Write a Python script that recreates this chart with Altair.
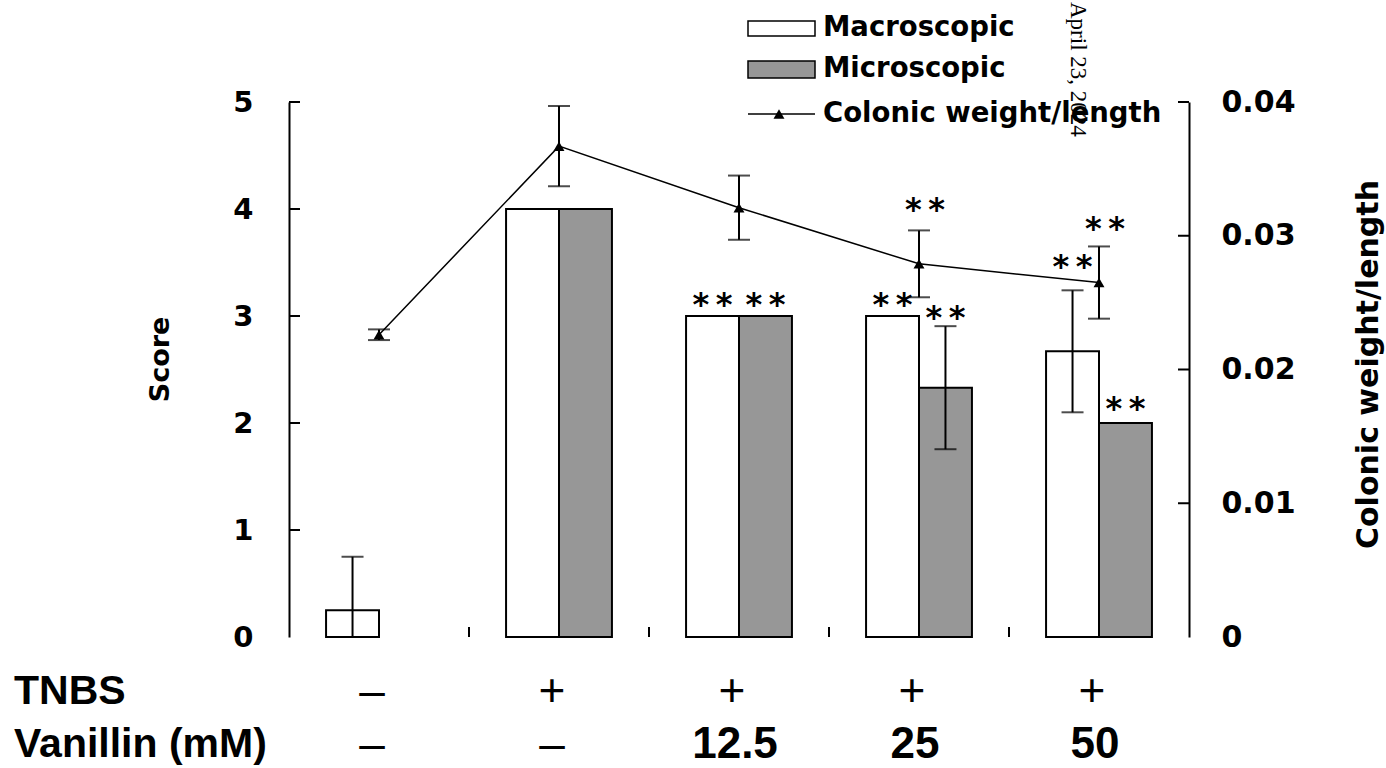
import altair as alt
import pandas as pd

# ---------------- data ----------------
groups = ["Control", "TNBS", "TNBS+V12.5", "TNBS+V25", "TNBS+V50"]
tnbs_labels = ["\u2013", "+", "+", "+", "+"]
vanillin_labels = ["\u2013", "\u2013", "12.5", "25", "50"]

series = ["Macroscopic", "Microscopic"]
macro_mean = [0.25, 4.0, 3.0, 3.0, 2.67]
macro_sd = [0.5, 0.0, 0.0, 0.0, 0.57]
micro_mean = [None, 4.0, 3.0, 2.33, 2.0]
micro_sd = [None, 0.0, 0.0, 0.575, 0.0]

weight_mean = [0.0226, 0.0367, 0.0321, 0.0279, 0.0265]
weight_sd = [0.0004, 0.0030, 0.0024, 0.0025, 0.0027]

bar_star_groups = ["TNBS+V12.5", "TNBS+V12.5", "TNBS+V25", "TNBS+V25", "TNBS+V50", "TNBS+V50"]
bar_star_series = ["Macroscopic", "Microscopic", "Macroscopic", "Microscopic", "Macroscopic", "Microscopic"]
bar_star_y = [3.18, 3.18, 3.18, 3.06, 3.53, 2.21]
line_star_groups = ["TNBS+V25", "TNBS+V50"]
line_star_y = [0.0325, 0.0311]
star_text = "*\u2009*"

score_ticks = [0, 1, 2, 3, 4, 5]
weight_ticks = [0, 0.01, 0.02, 0.03, 0.04]

watermark = "April 23, 2024"

# ---------------- tables ----------------
rows = []
for g, m, s in zip(groups, macro_mean, macro_sd):
    rows.append({"group": g, "series": "Macroscopic", "mean": m, "sd": s})
for g, m, s in zip(groups, micro_mean, micro_sd):
    if m is not None:
        rows.append({"group": g, "series": "Microscopic", "mean": m, "sd": s})
bar_df = pd.DataFrame(rows)
bar_df["lo"] = (bar_df["mean"] - bar_df["sd"]).clip(lower=0)
bar_df["hi"] = bar_df["mean"] + bar_df["sd"]
err_df = bar_df[bar_df["sd"] > 0]
cap_df = pd.concat([
    err_df[["group", "series", "hi"]].rename(columns={"hi": "v"}),
    err_df[err_df["lo"] > 0][["group", "series", "lo"]].rename(columns={"lo": "v"}),
])

line_df = pd.DataFrame({"group": groups, "w": weight_mean, "sd": weight_sd})
line_df["lo"] = line_df["w"] - line_df["sd"]
line_df["hi"] = line_df["w"] + line_df["sd"]
lcap_df = pd.concat([
    line_df[["group", "hi"]].rename(columns={"hi": "v"}),
    line_df[["group", "lo"]].rename(columns={"lo": "v"}),
])

bstar_df = pd.DataFrame({"group": bar_star_groups, "series": bar_star_series, "y": bar_star_y, "t": star_text})
lstar_df = pd.DataFrame({"group": line_star_groups, "y": line_star_y, "t": star_text})

lab_df = pd.DataFrame({"group": groups * 2,
                       "row": ["TNBS"] * 5 + ["Vanillin"] * 5,
                       "label": tnbs_labels + vanillin_labels})
lab_df["sym"] = lab_df["label"].isin(["+", "\u2013"])

W, H = 900, 535
FONT = "DejaVu Sans"

xs = alt.Scale(domain=groups, paddingInner=0, paddingOuter=0)
xo = alt.Scale(domain=series, paddingInner=0, paddingOuter=0.7)
ys = alt.Scale(domain=[0, 5], nice=False, zero=True)
ws = alt.Scale(domain=[0, 0.04], nice=False, zero=True)

X = lambda **kw: alt.X("group:N", sort=groups, scale=xs, axis=None, **kw)
XO = alt.XOffset("series:N", scale=xo, sort=series)

# ---------------- layers ----------------
bars = alt.Chart(bar_df).mark_bar(stroke="black", strokeWidth=2).encode(
    x=alt.X("group:N", sort=groups, scale=xs,
            axis=alt.Axis(labels=False, ticks=False, title=None, domainColor="black",
                          domainWidth=2, grid=False)),
    xOffset=XO,
    y=alt.Y("mean:Q", scale=ys,
            axis=alt.Axis(orient="left", values=score_ticks, ticks=False, tickSize=0, grid=False,
                          domainColor="black", domainWidth=2, labelPadding=36,
                          labelFont=FONT, labelFontWeight="bold", labelFontSize=29,
                          labelColor="black", title="Score", titleFont=FONT,
                          titleFontWeight="bold", titleFontSize=27, titleColor="black",
                          titleAngle=270, titleX=-129, titleY=257, titleAlign="center",
                          titleBaseline="middle")),
    fill=alt.Fill("series:N", scale=alt.Scale(domain=series, range=["white", "#979797"]), legend=None),
)

err = alt.Chart(err_df).mark_rule(color="black", strokeWidth=2).encode(
    x=X(), xOffset=XO,
    y=alt.Y("lo:Q", scale=ys, axis=None), y2="hi:Q")
caps = alt.Chart(cap_df).mark_tick(color="black", thickness=2, size=22, orient="horizontal").encode(
    x=X(), xOffset=XO, y=alt.Y("v:Q", scale=ys, axis=None))

line = alt.Chart(line_df).mark_line(color="black", strokeWidth=1.5).encode(
    x=X(),
    y=alt.Y("w:Q", scale=ws,
            axis=alt.Axis(orient="right", values=weight_ticks, ticks=False, tickSize=0, grid=False,
                          domainColor="black", domainWidth=2, labelPadding=32,
                          labelExpr="datum.value == 0 ? '0' : format(datum.value, '.2f')",
                          labelFont=FONT, labelFontWeight="bold", labelFontSize=30,
                          labelColor="black", labelAlign="left",
                          title="Colonic weight/length", titleFont=FONT,
                          titleFontWeight="bold", titleFontSize=30, titleColor="black",
                          titleAngle=270, titleX=179, titleY=262, titleAlign="center",
                          titleBaseline="middle")))
lerr = alt.Chart(line_df).mark_rule(color="black", strokeWidth=2).encode(
    x=X(), y=alt.Y("lo:Q", scale=ws, axis=None), y2="hi:Q")
lcaps = alt.Chart(lcap_df).mark_tick(color="black", thickness=2, size=22, orient="horizontal").encode(
    x=X(), y=alt.Y("v:Q", scale=ws, axis=None))
pts = alt.Chart(line_df).mark_point(shape="triangle-up", filled=True, color="black", size=120, opacity=1).encode(
    x=X(), y=alt.Y("w:Q", scale=ws, axis=None))

bstars = alt.Chart(bstar_df).mark_text(font=FONT, fontWeight="bold", fontSize=32, color="black",
                                       baseline="alphabetic", dy=18).encode(
    x=X(), xOffset=XO, y=alt.Y("y:Q", scale=ys, axis=None), text="t:N")
lstars = alt.Chart(lstar_df).mark_text(font=FONT, fontWeight="bold", fontSize=32, color="black",
                                       baseline="alphabetic", dy=18, dx=6).encode(
    x=X(), y=alt.Y("y:Q", scale=ws, axis=None), text="t:N")

# inward ticks
lt = alt.Chart(pd.DataFrame({"v": score_ticks[1:]})).mark_rule(color="black", strokeWidth=2).encode(
    y=alt.Y("v:Q", scale=ys, axis=None), x=alt.value(0), x2=alt.value(11))
rt = alt.Chart(pd.DataFrame({"v": weight_ticks[1:]})).mark_rule(color="black", strokeWidth=2).encode(
    y=alt.Y("v:Q", scale=ws, axis=None), x=alt.value(W - 11), x2=alt.value(W))
bt = alt.Chart(pd.DataFrame({"group": groups[1:]})).mark_rule(color="black", strokeWidth=2).encode(
    x=alt.X("group:N", sort=groups, scale=xs, axis=None, bandPosition=0),
    y=alt.value(H - 10), y2=alt.value(H))

# bottom condition rows
row_y = {"TNBS": 590, "Vanillin": 643}
sym_layers = []
for r, yy in row_y.items():
    d_sym = lab_df[(lab_df["row"] == r) & lab_df["sym"]]
    d_num = lab_df[(lab_df["row"] == r) & ~lab_df["sym"]]
    sym_layers.append(alt.Chart(d_sym).mark_text(font="Liberation Sans", fontSize=46, color="black",
                                                 baseline="middle", dx=-7).encode(
        x=X(), y=alt.value(yy), text="label:N"))
    if len(d_num):
        sym_layers.append(alt.Chart(d_num).mark_text(font="Liberation Sans", fontWeight="bold",
                                                     fontSize=44, color="black", baseline="middle",
                                                     dx=-4).encode(
            x=X(), y=alt.value(yy), text="label:N"))
row_titles = alt.Chart(pd.DataFrame({"t": ["TNBS", "Vanillin (mM)"], "yy": [590, 643]})).mark_text(
    font="Liberation Sans", fontWeight="bold", fontSize=41, color="black", align="left",
    baseline="middle").encode(x=alt.value(-275), y=alt.Y("yy:Q", scale=None), text="t:N")

# legend (manual)
leg_rect = alt.Chart(pd.DataFrame({"s": series, "y1": [-81, -41], "y2": [-66, -24]})).mark_rect(
    stroke="black", strokeWidth=1.5).encode(
    x=alt.value(459), x2=alt.value(526), y=alt.Y("y1:Q", scale=None), y2="y2:Q",
    fill=alt.Fill("s:N", scale=alt.Scale(domain=series, range=["white", "#979797"]), legend=None))
leg_line = alt.Chart(pd.DataFrame({"a": [0]})).mark_rule(color="black", strokeWidth=1.5).encode(
    x=alt.value(459), x2=alt.value(526), y=alt.value(12))
leg_pt = alt.Chart(pd.DataFrame({"a": [0]})).mark_point(shape="triangle-up", filled=True, color="black",
                                                        size=120, opacity=1).encode(
    x=alt.value(490), y=alt.value(12))
leg_text = alt.Chart(pd.DataFrame({"t": series + ["Colonic weight/length"], "yy": [-74, -33, 12]})).mark_text(
    font=FONT, fontWeight="bold", fontSize=27.5, color="black", align="left", baseline="middle").encode(
    x=alt.value(534), y=alt.Y("yy:Q", scale=None), text="t:N")

wm = alt.Chart(pd.DataFrame({"t": [watermark]})).mark_text(
    font="Liberation Serif", fontSize=23, color="black", angle=90, align="left",
    baseline="middle").encode(x=alt.value(789), y=alt.value(-100), text="t:N")

chart = alt.layer(
    bars, err, caps, line, lerr, lcaps, pts, bstars, lstars, lt, rt, bt,
    *sym_layers, row_titles, leg_rect, leg_line, leg_pt, leg_text, wm
).resolve_scale(y="independent", fill="independent").properties(
    width=W, height=H,
    autosize=alt.AutoSizeParams(type="none"),
    padding={"left": 289, "top": 102, "right": 1386 - 289 - W, "bottom": 768 - 102 - H},
    background="white",
).configure_view(stroke=None)

chart.save("out.html", embed_options={"renderer": "svg", "actions": False})
